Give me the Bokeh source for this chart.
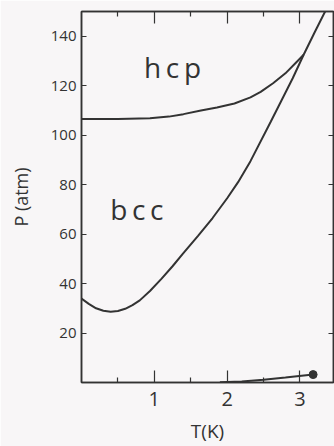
from bokeh.plotting import figure
from bokeh.models import LinearAxis, FixedTicker, Label, CustomJSTickFormatter
from bokeh.embed import file_html
from bokeh.resources import INLINE

# ---- data ----
melt_T = [0.0, 0.1, 0.2, 0.3, 0.4, 0.5, 0.6, 0.7, 0.8, 0.94, 1.1, 1.25, 1.39, 1.6, 1.8, 2.0, 2.15, 2.32, 2.6, 2.9, 3.05, 3.2, 3.35]
melt_P = [33.9, 31.8, 30.0, 29.0, 28.6, 28.9, 29.8, 31.3, 33.2, 37.0, 42.0, 47.0, 52.0, 59.3, 66.5, 74.5, 81.0, 89.5, 105.5, 123.0, 132.5, 141.5, 150.3]

hcp_T = [0.0, 0.5, 0.94, 1.2, 1.4, 1.64, 1.86, 2.1, 2.32, 2.46, 2.63, 2.8, 2.95, 3.05]
hcp_P = [106.5, 106.5, 106.8, 107.5, 108.5, 110.0, 111.2, 112.8, 115.3, 117.5, 121.0, 125.0, 129.5, 132.5]

vap_T = [1.9, 2.2, 2.5, 2.8, 3.18]
vap_P = [0.1, 0.4, 1.1, 2.0, 3.2]

crit_T = [3.18]
crit_P = [3.2]

x_ticks = [1, 2, 3]
x_minor = [0.5, 1.5, 2.5]
y_ticks = [20, 40, 60, 80, 100, 120, 140]

INK = "#333333"
BG = "#f8f6f7"
FONT = "Open Sans"

p = figure(width=334, height=446, x_range=(0, 3.46), y_range=(0, 150),
           output_backend="svg", toolbar_location=None,
           min_border_left=81, min_border_right=1, min_border_top=11, min_border_bottom=63,
           background_fill_color=BG, border_fill_color=BG)
p.grid.visible = False
p.outline_line_color = INK
p.outline_line_width = 1.5

blank = CustomJSTickFormatter(code="return ''")

def style_x(ax, labels=True):
    ax.ticker = FixedTicker(ticks=x_ticks, minor_ticks=x_minor)
    ax.major_tick_in = 12
    ax.major_tick_out = 0
    ax.minor_tick_in = 5
    ax.minor_tick_out = 0
    ax.axis_line_color = INK
    ax.axis_line_width = 1.5
    ax.major_tick_line_color = INK
    ax.minor_tick_line_color = INK
    ax.major_tick_line_width = 1.2
    ax.minor_tick_line_width = 1.2
    if labels:
        ax.major_label_text_font_size = "20px"
        ax.major_label_text_font = FONT
        ax.major_label_text_color = INK
        ax.major_label_standoff = 9
    else:
        ax.formatter = blank
        ax.major_label_standoff = 0

def style_y(ax, labels=True):
    ax.ticker = FixedTicker(ticks=y_ticks)
    ax.major_tick_in = 5
    ax.major_tick_out = 0
    ax.minor_tick_in = 0
    ax.minor_tick_out = 0
    ax.axis_line_color = INK
    ax.axis_line_width = 1.5
    ax.major_tick_line_color = INK
    ax.major_tick_line_width = 1.2
    if labels:
        ax.major_label_text_font_size = "15px"
        ax.major_label_text_font = FONT
        ax.major_label_text_color = INK
        ax.major_label_standoff = 5
    else:
        ax.formatter = blank
        ax.major_label_standoff = 0

style_x(p.xaxis[0])
style_y(p.yaxis[0])

p.xaxis[0].axis_label = "T(K)"
p.xaxis[0].axis_label_text_font = FONT
p.xaxis[0].axis_label_text_font_size = "19px"
p.xaxis[0].axis_label_text_font_style = "normal"
p.xaxis[0].axis_label_text_color = INK
p.xaxis[0].axis_label_standoff = 9

p.yaxis[0].axis_label = "P (atm)"
p.yaxis[0].axis_label_text_font = FONT
p.yaxis[0].axis_label_text_font_size = "18px"
p.yaxis[0].axis_label_text_font_style = "normal"
p.yaxis[0].axis_label_text_color = INK
p.yaxis[0].axis_label_standoff = 15

top = LinearAxis()
style_x(top, labels=False)
p.add_layout(top, "above")
right = LinearAxis()
style_y(right, labels=False)
p.add_layout(right, "right")

p.line(melt_T, melt_P, line_color=INK, line_width=2)
p.line(hcp_T, hcp_P, line_color=INK, line_width=2)
p.line(vap_T, vap_P, line_color=INK, line_width=2)
p.scatter(crit_T, crit_P, size=8, color=INK)

def lab(text, x, y, size):
    p.add_layout(Label(x=x, y=y, text=text, text_font=FONT, text_font_size=size,
                       text_color=INK, text_align="center", text_baseline="alphabetic"))

lab("h\u2009c\u2009p", 1.25, 127.4, "28px")
lab("b\u2009c\u2009c", 0.76, 70.2, "28px")

open("out.html", "w").write(file_html(p, INLINE))
